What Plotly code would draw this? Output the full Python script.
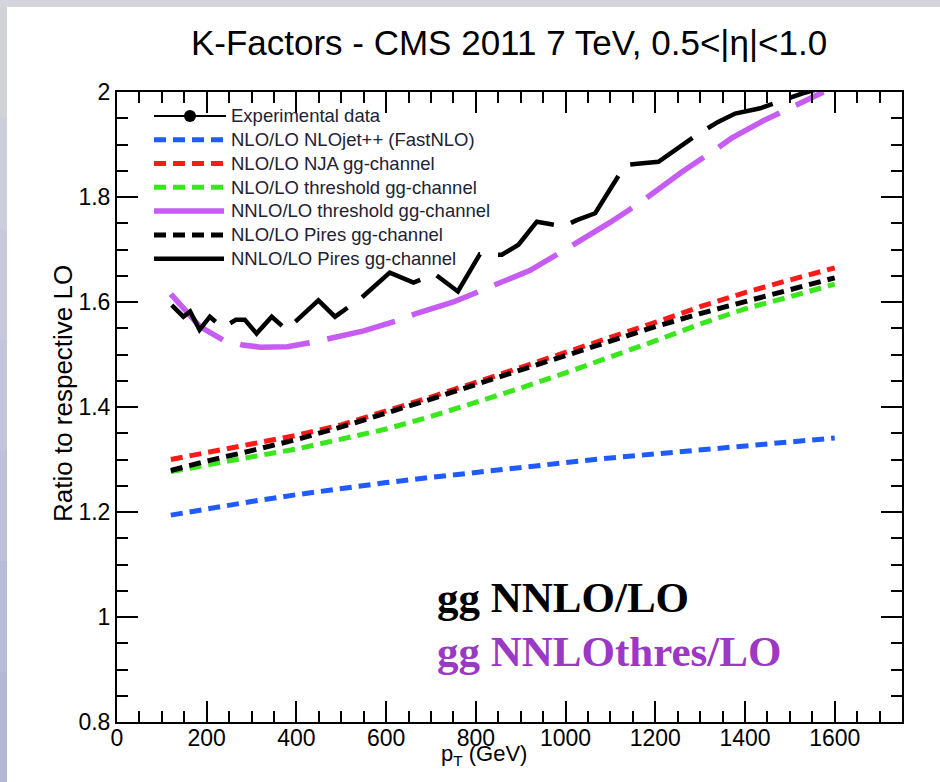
import plotly.graph_objects as go

# K-factor curves vs jet transverse momentum (GeV)
pt_grid = [120, 200, 300, 400, 500, 600, 700, 800, 900, 1000, 1100, 1200, 1300, 1400, 1500, 1600]

nlojet_fastnlo = [1.194, 1.206, 1.220, 1.233, 1.245, 1.256, 1.266, 1.276, 1.285, 1.294,
                  1.303, 1.311, 1.319, 1.327, 1.334, 1.341]
nja_nlo = [1.300, 1.313, 1.328, 1.346, 1.366, 1.392, 1.419, 1.447, 1.475, 1.503,
           1.531, 1.561, 1.591, 1.618, 1.642, 1.665]
threshold_nlo = [1.277, 1.290, 1.305, 1.320, 1.338, 1.358, 1.382, 1.408, 1.436, 1.465,
                 1.495, 1.526, 1.558, 1.587, 1.610, 1.634]
pires_nlo = [1.279, 1.297, 1.317, 1.338, 1.362, 1.388, 1.415, 1.443, 1.471, 1.499,
             1.526, 1.553, 1.578, 1.601, 1.623, 1.646]

threshold_nnlo_pt = [120, 150, 185, 236, 280, 320, 380, 440, 480, 550, 630, 670, 750, 816,
                     860, 920, 1000, 1036, 1100, 1166, 1204, 1260, 1330, 1370, 1440, 1507, 1575]
threshold_nnlo = [1.615, 1.585, 1.553, 1.528, 1.518, 1.514, 1.515, 1.524, 1.531, 1.545,
                  1.566, 1.579, 1.600, 1.623, 1.640, 1.660, 1.700, 1.718, 1.752, 1.789,
                  1.813, 1.848, 1.888, 1.912, 1.945, 1.971, 2.000]

pires_nnlo_pt = [122, 148, 163, 184, 207, 235, 265, 285, 311, 345, 378, 449, 486, 545, 608,
                 661, 709, 760, 809, 858, 895, 936, 995, 1025, 1066, 1133, 1166, 1207, 1292,
                 1340, 1378, 1434, 1527, 1580]
pires_nnlo = [1.594, 1.572, 1.582, 1.547, 1.572, 1.551, 1.566, 1.566, 1.540, 1.572, 1.547,
              1.603, 1.572, 1.608, 1.656, 1.637, 1.653, 1.620, 1.691, 1.690, 1.709, 1.753,
              1.744, 1.756, 1.769, 1.861, 1.864, 1.867, 1.918, 1.943, 1.959, 1.969, 1.997, 2.010]

# measured points: none fall inside the displayed window, kept for the legend entry
exp_pt = [None]
exp_ratio = [None]

x_ticks = [0, 200, 400, 600, 800, 1000, 1200, 1400, 1600]
y_ticks = [0.8, 1.0, 1.2, 1.4, 1.6, 1.8, 2.0]
y_tick_text = ["0.8", "1", "1.2", "1.4", "1.6", "1.8", "2"]

W, H = 940, 782
ML, MR, MT, MB = 117, 38, 92, 60
PW, PH = W - ML - MR, H - MT - MB


def px_x(p):
    return (p - ML) / PW


def px_y(q):
    return (H - MB - q) / PH


def legend_label(text):
    # legend rows are spaced by the legend font; the label itself is set a bit larger
    return "<span style='font-size:18.5px'>" + text + "</span>"


SANS = "Liberation Sans, Arial, sans-serif"
SERIF = "Liberation Serif, Times New Roman, serif"
SHORT_DASH = "12px,7px"
LONG_DASH = "70px,18px"

fig = go.Figure()

fig.add_trace(go.Scatter(x=exp_pt, y=exp_ratio, mode="lines+markers",
                         name=legend_label("Experimental data"),
                         line=dict(color="black", width=2), marker=dict(color="black", size=12)))
fig.add_trace(go.Scatter(x=pt_grid, y=nlojet_fastnlo, mode="lines",
                         name=legend_label("NLO/LO NLOjet++ (FastNLO)"),
                         line=dict(color="#1f5bff", width=5, dash=SHORT_DASH)))
fig.add_trace(go.Scatter(x=pt_grid, y=nja_nlo, mode="lines",
                         name=legend_label("NLO/LO NJA gg-channel"),
                         line=dict(color="#ff1a1a", width=5, dash=SHORT_DASH)))
fig.add_trace(go.Scatter(x=pt_grid, y=threshold_nlo, mode="lines",
                         name=legend_label("NLO/LO threshold gg-channel"),
                         line=dict(color="#3ae61c", width=5, dash=SHORT_DASH)))
fig.add_trace(go.Scatter(x=threshold_nnlo_pt, y=threshold_nnlo, mode="lines",
                         name=legend_label("NNLO/LO threshold gg-channel"),
                         line=dict(color="#c65cf2", width=5.5, dash=LONG_DASH)))
fig.add_trace(go.Scatter(x=pt_grid, y=pires_nlo, mode="lines",
                         name=legend_label("NLO/LO Pires gg-channel"),
                         line=dict(color="black", width=5, dash=SHORT_DASH)))
fig.add_trace(go.Scatter(x=pires_nnlo_pt, y=pires_nnlo, mode="lines",
                         name=legend_label("NNLO/LO Pires gg-channel"),
                         line=dict(color="black", width=4.5, dash=LONG_DASH)))

axis_common = dict(
    showline=True, linecolor="black", linewidth=2, mirror="ticks",
    ticks="inside", ticklen=21, tickwidth=2, tickcolor="black",
    showgrid=False, zeroline=False,
    tickfont=dict(family=SANS, size=23, color="black"),
)

fig.update_xaxes(range=[0, 1750], tickvals=x_ticks, ticklabelstandoff=-6,
                 minor=dict(ticks="inside", ticklen=11, tickwidth=2, tickcolor="black", dtick=50, tick0=0),
                 **axis_common)
fig.update_yaxes(range=[0.8, 2.0], tickvals=y_ticks, ticktext=y_tick_text,
                 minor=dict(ticks="inside", ticklen=11, tickwidth=2, tickcolor="black", dtick=0.05, tick0=0.8),
                 **axis_common)

# slide background: grey frame with a bluish left edge, white page
shapes = []
shapes.append(dict(type="rect", xref="paper", yref="paper", layer="below",
                   x0=px_x(0), x1=px_x(W), y0=px_y(H), y1=px_y(0),
                   fillcolor="#d4d4da", line=dict(width=0)))
edge_cols = ["#d2d2d9", "#cdcedb", "#c8cadb", "#c3c5da", "#bec1d8", "#b9bcd6", "#b5b8d4"]
n = len(edge_cols)
for i, c in enumerate(edge_cols):
    shapes.append(dict(type="rect", xref="paper", yref="paper", layer="below",
                       x0=px_x(0), x1=px_x(7), y0=px_y(7 + (H - 7) * (i + 1) / n),
                       y1=px_y(7 + (H - 7) * i / n), fillcolor=c, line=dict(width=0)))
shapes.append(dict(type="rect", xref="paper", yref="paper", layer="below",
                   x0=px_x(7), x1=px_x(W), y0=px_y(H), y1=px_y(7),
                   fillcolor="white", line=dict(width=0)))

annotations = [
    dict(text="p<sub>T</sub> (GeV)", xref="paper", yref="paper", x=px_x(484), y=px_y(755),
         xanchor="center", yanchor="middle", showarrow=False,
         font=dict(family=SANS, size=22, color="black")),
    dict(text="Ratio to respective LO", xref="paper", yref="paper", x=px_x(63), y=px_y(394),
         xanchor="center", yanchor="middle", textangle=-90, showarrow=False,
         font=dict(family=SANS, size=26, color="black")),
    dict(text="<b>gg NNLO/LO</b>", xref="paper", yref="paper", x=px_x(435), y=px_y(597),
         xanchor="left", yanchor="middle", showarrow=False,
         font=dict(family=SERIF, size=43, color="black")),
    dict(text="<b>gg NNLOthres/LO</b>", xref="paper", yref="paper", x=px_x(435), y=px_y(651),
         xanchor="left", yanchor="middle", showarrow=False,
         font=dict(family=SERIF, size=43, color="#9b38c4")),
]

fig.update_layout(
    width=W, height=H,
    margin=dict(l=ML, r=MR, t=MT, b=MB, pad=0),
    paper_bgcolor="#d4d4da",
    plot_bgcolor="rgba(0,0,0,0)",
    title=dict(text="K-Factors - CMS 2011 7 TeV, 0.5&lt;|η|&lt;1.0",
               x=509 / W, y=1 - 43 / H, xanchor="center", yanchor="middle",
               font=dict(family=SANS, size=35, color="black")),
    legend=dict(x=px_x(149), y=px_y(99), xanchor="left", yanchor="top",
                bgcolor="rgba(0,0,0,0)", borderwidth=0, itemwidth=72,
                font=dict(family=SANS, size=16, color="#222233"),
                tracegroupgap=0),
    showlegend=True,
    shapes=shapes,
    annotations=annotations,
)

fig.write_html("out.html")
